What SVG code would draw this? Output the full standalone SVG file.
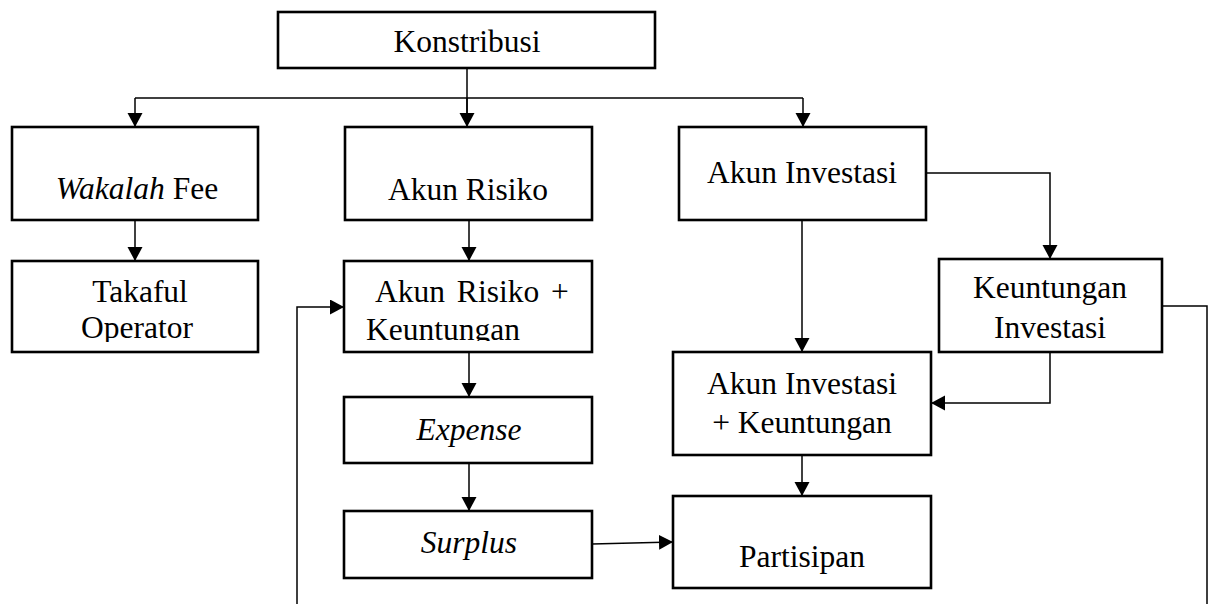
<svg xmlns="http://www.w3.org/2000/svg" width="1211" height="604" viewBox="0 0 1211 604">
  <style>
    .box { fill: #fff; stroke: #000; stroke-width: 2.6; }
    .lbl { font-family: "Liberation Serif", "Times New Roman", serif; font-size: 31.5px; fill: #000; }
    .c { text-anchor: middle; }
    .it { font-style: italic; }
    .conn { fill: none; stroke: #000; stroke-width: 1.5; }
  </style>
  <defs>
    <marker id="arr" markerUnits="userSpaceOnUse" markerWidth="15" markerHeight="16" refX="14" refY="7.5" orient="auto">
      <path d="M0,0 L14,7.5 L0,15 z" fill="#000"/>
    </marker>
    <!-- text overflowing the lower edge of these boxes is cut off -->
    <clipPath id="clipTakaful"><rect x="12" y="261" width="246" height="81"/></clipPath>
    <clipPath id="clipRisikoPlus"><rect x="344" y="261" width="248" height="80"/></clipPath>
  </defs>

  <g id="connectors" class="conn">
    <path d="M467,68 V125"/>
    <path d="M135,98 H803"/>
    <path d="M135,98 V127" marker-end="url(#arr)"/>
    <path d="M467,98 V127" marker-end="url(#arr)"/>
    <path d="M803,98 V127" marker-end="url(#arr)"/>
    <path d="M135,220 V261" marker-end="url(#arr)"/>
    <path d="M469,220 V261" marker-end="url(#arr)"/>
    <path d="M469,352 V397" marker-end="url(#arr)"/>
    <path d="M469,463 V511" marker-end="url(#arr)"/>
    <path d="M592,544 L673,542" marker-end="url(#arr)"/>
    <path d="M297,604 V307 H344" marker-end="url(#arr)"/>
    <path d="M926,173 H1050 V259" marker-end="url(#arr)"/>
    <path d="M802,220 V352" marker-end="url(#arr)"/>
    <path d="M1050,352 V403 H931" marker-end="url(#arr)"/>
    <path d="M802,455 V496" marker-end="url(#arr)"/>
    <path d="M1162,306 H1207 V604"/>
  </g>

  <g id="konstribusi">
    <rect class="box" x="278" y="12" width="377" height="56"/>
    <text class="lbl c" x="467" y="52">Konstribusi</text>
  </g>

  <g id="wakalah-fee">
    <rect class="box" x="12" y="127" width="246" height="93"/>
    <text class="lbl c" x="137" y="199"><tspan class="it">Wakalah</tspan> Fee</text>
  </g>

  <g id="takaful-operator">
    <rect class="box" x="12" y="261" width="246" height="91"/>
    <g clip-path="url(#clipTakaful)">
      <text class="lbl c" x="140" y="302">Takaful</text>
      <text class="lbl c" x="137" y="338">Operator</text>
    </g>
  </g>

  <g id="akun-risiko">
    <rect class="box" x="345" y="127" width="247" height="93"/>
    <text class="lbl c" x="468" y="200">Akun Risiko</text>
  </g>

  <g id="akun-risiko-keuntungan">
    <rect class="box" x="344" y="261" width="248" height="91"/>
    <g clip-path="url(#clipRisikoPlus)">
      <text class="lbl" x="375" y="302" word-spacing="4">Akun Risiko +</text>
      <text class="lbl" x="366" y="340">Keuntungan</text>
    </g>
  </g>

  <g id="expense">
    <rect class="box" x="344" y="397" width="248" height="66"/>
    <text class="lbl c it" x="469" y="440">Expense</text>
  </g>

  <g id="surplus">
    <rect class="box" x="344" y="511" width="248" height="67"/>
    <text class="lbl c it" x="469" y="553">Surplus</text>
  </g>

  <g id="akun-investasi">
    <rect class="box" x="679" y="127" width="247" height="93"/>
    <text class="lbl c" x="802" y="183">Akun Investasi</text>
  </g>

  <g id="keuntungan-investasi">
    <rect class="box" x="939" y="259" width="223" height="93"/>
    <text class="lbl c" x="1050" y="298">Keuntungan</text>
    <text class="lbl c" x="1050" y="338">Investasi</text>
  </g>

  <g id="akun-investasi-keuntungan">
    <rect class="box" x="673" y="352" width="258" height="103"/>
    <text class="lbl c" x="802" y="394">Akun Investasi</text>
    <text class="lbl c" x="802" y="433">+ Keuntungan</text>
  </g>

  <g id="partisipan">
    <rect class="box" x="673" y="496" width="258" height="92"/>
    <text class="lbl c" x="802" y="567">Partisipan</text>
  </g>
</svg>
